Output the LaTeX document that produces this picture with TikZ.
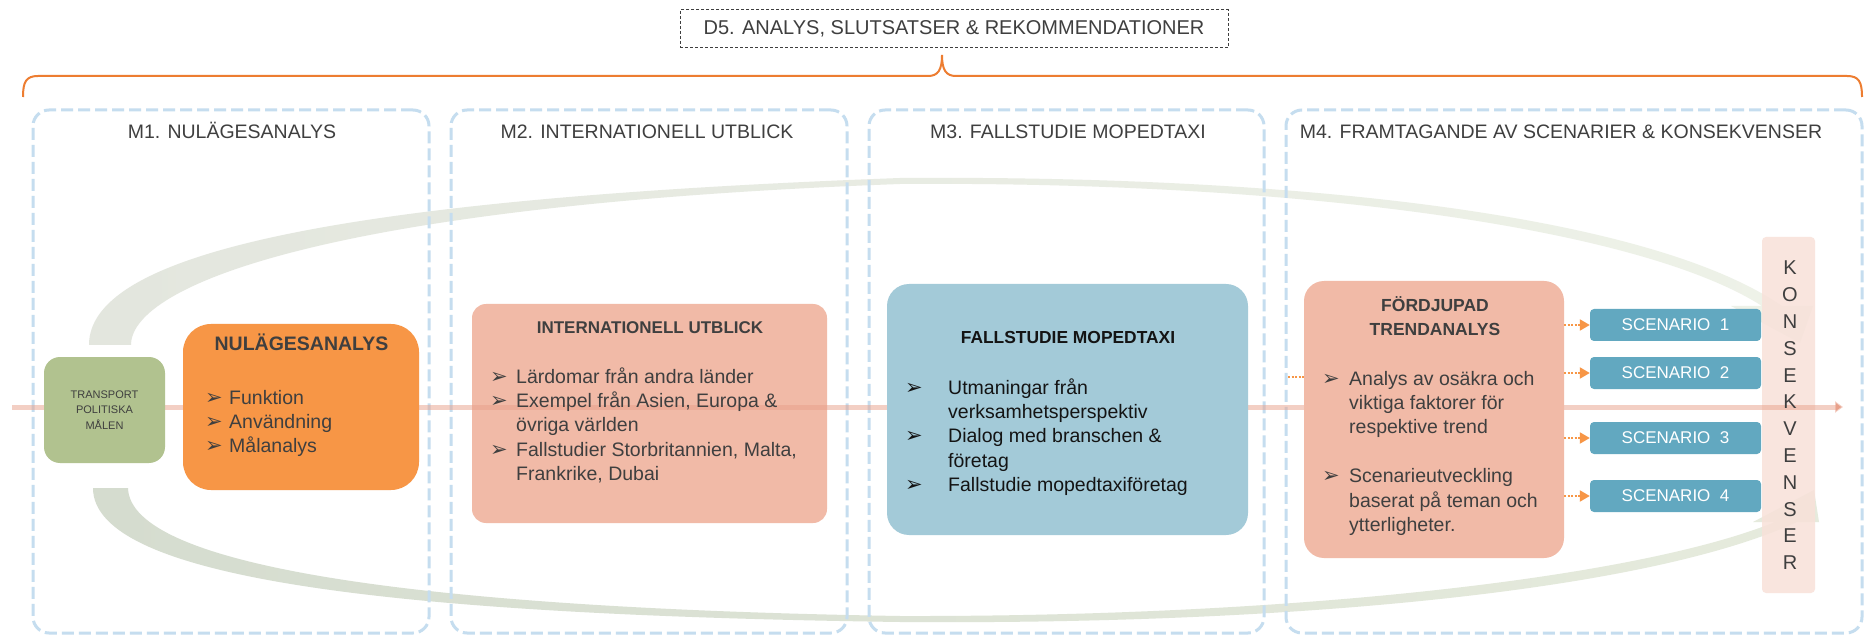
\documentclass[tikz,border=0pt]{standalone}
\usepackage{fontspec}
\setmainfont{Liberation Sans}
\newfontfamily\symfont{DejaVu Sans}
\usetikzlibrary{arrows.meta,calc,positioning}

\definecolor{panelblue}{HTML}{C5DDEF}
\definecolor{braceorange}{HTML}{ED7D31}
\definecolor{goalgreen}{HTML}{B1C28F}
\definecolor{nulorange}{HTML}{F79646}
\definecolor{intpink}{HTML}{F1BAA7}
\definecolor{caseblue}{HTML}{A3CAD8}
\definecolor{scenblue}{HTML}{62A8C0}
\definecolor{konspink}{HTML}{F8E1D9}
\definecolor{flowred}{HTML}{E8A08A}
\definecolor{textgray}{HTML}{3F3F3F}
\definecolor{casetext}{HTML}{141414}
\definecolor{arcgray}{HTML}{E3E6DE}
\definecolor{arcgreen}{HTML}{D5DCCF}
\definecolor{arcfade}{HTML}{EEF2E8}
\definecolor{arcfadeb}{HTML}{E6EBDD}

\tikzset{>=latex}
\tikzstyle{panel}=[draw=panelblue,line width=3pt,dash pattern=on 12pt off 5pt,rounded corners=16pt]
\tikzstyle{paneltitle}=[text=textgray,font=\fontsize{19.5}{22}\selectfont,anchor=base]
\tikzstyle{goalbox}=[fill=goalgreen,rounded corners=16pt,minimum width=121pt,minimum height=106pt,align=center,text=textgray,font=\fontsize{11}{15.7}\selectfont]
\tikzstyle{nulbox}=[fill=nulorange,rounded corners=28pt,minimum width=236pt,minimum height=166pt]
\tikzstyle{intbox}=[fill=intpink,rounded corners=14pt,minimum width=355pt,minimum height=219pt]
\tikzstyle{casebox}=[fill=caseblue,rounded corners=22pt,minimum width=361pt,minimum height=251pt]
\tikzstyle{trendbox}=[fill=intpink,rounded corners=20pt,minimum width=260pt,minimum height=277pt]
\tikzstyle{scenbox}=[fill=scenblue,rounded corners=4pt,minimum width=171pt,minimum height=32pt,text=white,font=\fontsize{17}{17}\selectfont]
\tikzstyle{konsbar}=[fill=konspink,fill opacity=0.85,rounded corners=4pt,minimum width=53pt,minimum height=356pt]
\tikzstyle{konsletter}=[text=textgray,font=\fontsize{20}{20}\selectfont]
\tikzstyle{boxtitle}=[anchor=base]
\tikzstyle{bodytext}=[font=\fontsize{19.5}{24.4}\selectfont,anchor=base west]
\tikzstyle{bulletglyph}=[font=\symfont\fontsize{21}{21}\selectfont,anchor=base west]
\tikzstyle{flow}=[draw=flowred,draw opacity=0.5,line width=5pt,-{Triangle[length=8pt,width=11pt]}]
\tikzstyle{dotarrow}=[draw=nulorange,line width=2pt,dash pattern=on 2pt off 1.5pt,-{Triangle[length=10pt,width=11pt,fill=nulorange]}]
\tikzstyle{d5box}=[draw=textgray,line width=1pt,dash pattern=on 3pt off 2pt,minimum width=548pt,minimum height=38pt,text=textgray,font=\fontsize{20}{20}\selectfont]
\tikzstyle{brace}=[draw=braceorange,line width=2pt]

\begin{document}
\begin{tikzpicture}[x=1pt,y=-1pt,inner sep=0pt]
\def \rowh {24.4};
\def \konsgap {26.8};

\useasboundingbox (0,0) rectangle (1869,636);
\fill[white] (0,0) rectangle (1869,636);

% the two sweeping arcs behind everything
\shade[left color=arcgray,right color=arcfade]
	(89,345) .. controls (89,260) and (300,200) .. (900,178)
	.. controls (1300,175) and (1650,215) .. (1782,306)
	-- (1813,306) -- (1800,343) -- (1731,306) -- (1762,306)
	.. controls (1640,228) and (1300,181) .. (900,184)
	.. controls (330,205) and (131,285) .. (131,345) -- cycle;
\shade[left color=arcgreen,right color=arcfadeb]
	(93,488) .. controls (93,580) and (400,615) .. (900,622)
	.. controls (1300,625) and (1650,590) .. (1797,522)
	-- (1819,522) -- (1814,490) -- (1753,522) -- (1775,522)
	.. controls (1640,577) and (1300,617) .. (900,616)
	.. controls (410,608) and (130,565) .. (128,488) -- cycle;

% panels M1 - M4
\foreach \name/\cx/\w in {m1/231/396,m2/649/396,m3/1066.5/395,m4/1574/576} {
	\node[panel,minimum width=\w pt,minimum height=523pt] (\name) at (\cx,371.5) {};
};
\foreach \name/\cx/\txt in {m1/232/{M1. NULÄGESANALYS},m2/647/{M2. INTERNATIONELL UTBLICK},m3/1068/{M3. FALLSTUDIE MOPEDTAXI},m4/1561/{M4. FRAMTAGANDE AV SCENARIER \& KONSEKVENSER}} {
	\node[paneltitle] (\name-title) at (\cx,139) {\txt};
};

\node[intbox] (int) at (649.5,413.5) {};
\node[konsbar] (kons) at (1788.5,415) {};

% main flow line
\coordinate (flowstart) at (12,407);
\coordinate (flowend) at (1843,407);
\draw[flow] (flowstart) -- (flowend);

\node[goalbox] (goal) at (104.5,410) {TRANSPORT\\POLITISKA\\MÅLEN};
\node[nulbox] (nul) at (301,407) {};
\node[casebox] (case) at (1067.5,409.5) {};
\node[trendbox] (trend) at (1434,419.5) {};

% box titles
\node[boxtitle,text=textgray,font=\bfseries\fontsize{19.5}{20}\selectfont] (nul-title) at (301.5,350.7) {NULÄGESANALYS};
\node[boxtitle,text=textgray,font=\bfseries\fontsize{17}{20}\selectfont] (int-title) at (650,334) {INTERNATIONELL UTBLICK};
\node[boxtitle,text=casetext,font=\bfseries\fontsize{17.4}{20}\selectfont] (case-title) at (1068,344) {FALLSTUDIE MOPEDTAXI};
\node[boxtitle,text=textgray,font=\bfseries\fontsize{17.5}{20}\selectfont] (trend-title1) at (1435,312) {FÖRDJUPAD};
\node[boxtitle,text=textgray,font=\bfseries\fontsize{17.5}{20}\selectfont] (trend-title2) at (1435,336) {TRENDANALYS};

% bullet lists
\foreach \bul/\row/\txt in {1/0/Funktion,1/1/Användning,1/2/Målanalys} {
	\node[bodytext,text=textgray] (nul-line\row) at (229,{404+\rowh*\row}) {\txt};
	\ifnum\bul=1 \node[bulletglyph,text=textgray] (nul-bul\row) at (205,{404+\rowh*\row}) {➢}; \fi
};
\foreach \bul/\row/\txt in {1/0/{Lärdomar från andra länder},1/1/{Exempel från Asien, Europa \&},0/2/{övriga världen},1/3/{Fallstudier Storbritannien, Malta,},0/4/{Frankrike, Dubai}} {
	\node[bodytext,text=textgray] (int-line\row) at (516,{383+\rowh*\row}) {\txt};
	\ifnum\bul=1 \node[bulletglyph,text=textgray] (int-bul\row) at (490,{383+\rowh*\row}) {➢}; \fi
};
\foreach \bul/\row/\txt in {1/0/{Utmaningar från},0/1/{verksamhetsperspektiv},1/2/{Dialog med branschen \&},0/3/{företag},1/4/{Fallstudie mopedtaxiföretag}} {
	\node[bodytext,text=casetext] (case-line\row) at (948,{394+\rowh*\row}) {\txt};
	\ifnum\bul=1 \node[bulletglyph,text=casetext] (case-bul\row) at (905,{394+\rowh*\row}) {➢}; \fi
};
\foreach \bul/\row/\txt in {1/0/{Analys av osäkra och},0/1/{viktiga faktorer för},0/2/{respektive trend},1/4/{Scenarieutveckling},0/5/{baserat på teman och},0/6/{ytterligheter.}} {
	\node[bodytext,text=textgray] (trend-line\row) at (1349,{385+\rowh*\row}) {\txt};
	\ifnum\bul=1 \node[bulletglyph,text=textgray] (trend-bul\row) at (1322,{385+\rowh*\row}) {➢}; \fi
};

% scenarios
\foreach \i/\y in {1/325,2/373,3/438,4/496} {
	\node[scenbox] (scen\i) at (1675.5,\y) {SCENARIO\ \ \i};
	\draw[dotarrow] (trend.east |- scen\i) -- (scen\i.west);
};
\coordinate (stub) at (1288,377);
\draw[dotarrow,-] (stub) -- (stub -| trend.west);

% KONSEKVENSER
\foreach \ch [count=\k] in {K,O,N,S,E,K,V,E,N,S,E,R} {
	\node[konsletter] (kons-\k) at (1790,{268+\konsgap*(\k-1)}) {\ch};
};

% D5 and its brace
\node[d5box] (d5) at (954,29) {D5. ANALYS, SLUTSATSER \& REKOMMENDATIONER};
\draw[brace] (23,97) .. controls (23,82) and (26,76) .. (38,76) -- (928,76)
	.. controls (938,76) and (942,70) .. (942,55)
	.. controls (942,70) and (946,76) .. (956,76) -- (1847,76)
	.. controls (1859,76) and (1862,82) .. (1862,97);

\end{tikzpicture}
\end{document}
